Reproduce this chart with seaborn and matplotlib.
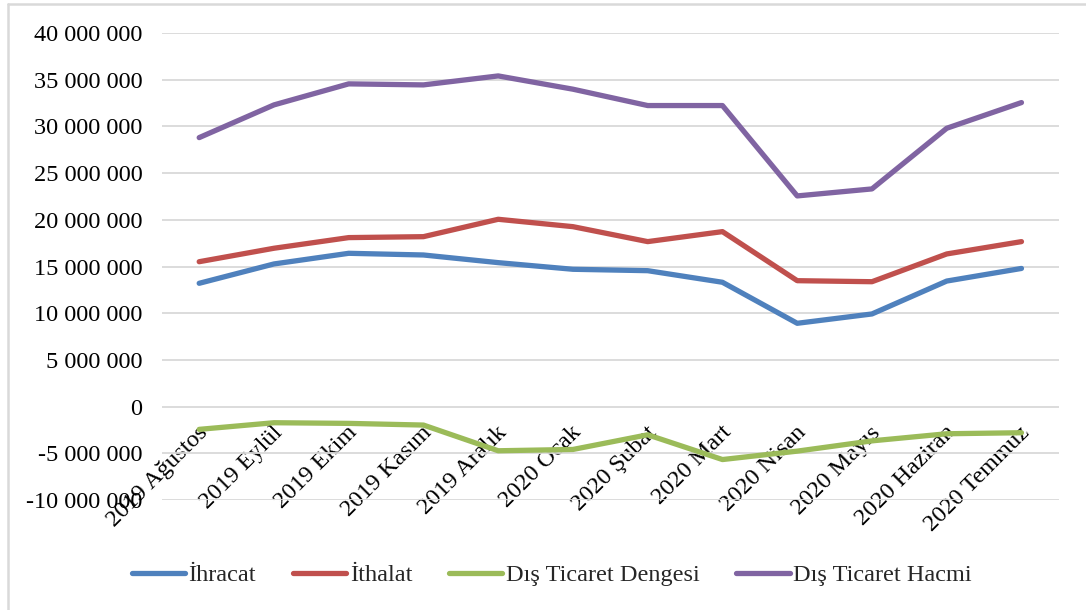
import numpy as np
import pandas as pd
import seaborn as sns
import matplotlib.pyplot as plt
from matplotlib.ticker import FuncFormatter, MultipleLocator
from matplotlib.lines import Line2D
import matplotlib.transforms as mtransforms

sns.set_theme(style='white')
plt.rcParams['font.family'] = ['Liberation Serif', 'DejaVu Serif']

# months and series (values in TL)
months = ["2019 Ağustos", "2019 Eylül", "2019 Ekim", "2019 Kasım", "2019 Aralık", "2020 Ocak",
          "2020 Şubat", "2020 Mart", "2020 Nisan", "2020 Mayıs", "2020 Haziran", "2020 Temmuz"]
ihracat = [13210000, 15280000, 16420000, 16240000, 15420000, 14710000,
           14560000, 13320000, 8930000, 9930000, 13450000, 14800000]
ithalat = [15520000, 16960000, 18100000, 18200000, 20060000, 19270000,
           17670000, 18740000, 13490000, 13380000, 16350000, 17670000]
denge = [-2420000, -1710000, -1780000, -1960000, -4710000, -4570000,
         -3000000, -5650000, -4750000, -3650000, -2890000, -2780000]
hacim = [28800000, 32300000, 34550000, 34440000, 35400000, 33980000,
         32230000, 32230000, 22560000, 23310000, 29800000, 32550000]

series = ["İhracat", "İthalat", "Dış Ticaret Dengesi", "Dış Ticaret Hacmi"]
colors = ["#4F81BD", "#C0504D", "#9BBB59", "#8064A2"]

df = pd.concat([
    pd.DataFrame({"Ay": months, "Deger": vals, "Seri": name})
    for name, vals in zip(series, [ihracat, ithalat, denge, hacim])
])

fs = 17.5
fig = plt.figure(figsize=(10.86, 6.1), dpi=100)
ax = fig.add_axes([0.149, 0.180, 0.826, 0.766])

sns.lineplot(data=df, x="Ay", y="Deger", hue="Seri", hue_order=series,
             palette=colors, linewidth=3.8, sort=False, ax=ax,
             solid_capstyle='round', solid_joinstyle='round')

ax.set_xlim(-0.5, len(months) - 0.5)
ax.set_ylim(-10000000, 40000000)
ax.yaxis.set_major_locator(MultipleLocator(5000000))
ax.yaxis.set_major_formatter(FuncFormatter(lambda v, p: f"{int(round(v)):,}".replace(",", " ")))
ax.grid(axis='y', color='#d9d9d9', linewidth=1.3)
ax.set_axisbelow(True)
for s in ax.spines.values():
    s.set_visible(False)
ax.spines['bottom'].set_position(('data', 0))
ax.set_xlabel("")
ax.set_ylabel("")
ax.tick_params(axis='y', length=0, pad=14, labelsize=fs, colors='black')
ax.tick_params(axis='x', length=0, pad=11, labelsize=fs, colors='black')

offset = mtransforms.ScaledTranslation(-2 / 100, 0, fig.dpi_scale_trans)
for lab in ax.get_xticklabels():
    lab.set_rotation(45)
    lab.set_ha('right')
    lab.set_va('top')
    lab.set_rotation_mode('anchor')
    lab.set_transform(lab.get_transform() + offset)

sns.move_legend(ax, "center", bbox_to_anchor=(0.508, 0.057), bbox_transform=fig.transFigure,
                ncol=4, frameon=False, title=None, fontsize=fs,
                handlelength=2.2, handletextpad=0.15, columnspacing=1.5)
for h in ax.get_legend().get_lines():
    h.set_linewidth(3.8)
    h.set_solid_capstyle('round')

# chart border (left and top edges visible)
fig.add_artist(Line2D([8 / 1086, 8 / 1086], [0, 1 - 4 / 610], color='#d9d9d9', lw=1.8))
fig.add_artist(Line2D([8 / 1086, 1], [1 - 4 / 610, 1 - 4 / 610], color='#d9d9d9', lw=1.8))

fig.savefig("out.png", dpi=100)
